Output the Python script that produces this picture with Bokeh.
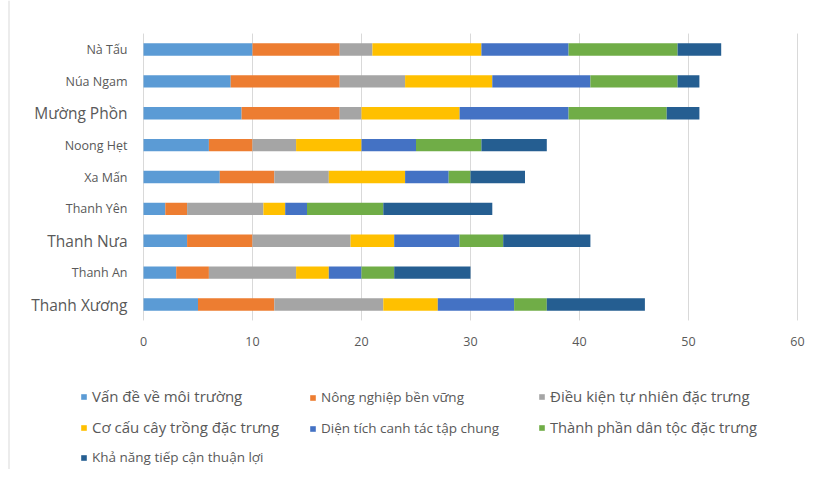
from bokeh.plotting import figure
from bokeh.models import ColumnDataSource, Range1d, Legend, LegendItem
from bokeh.core.properties import value
from bokeh.embed import file_html
from bokeh.resources import INLINE

categories = ["Nà Tấu", "Núa Ngam", "Mường Phồn", "Noong Hẹt", "Xa Mấn",
              "Thanh Yên", "Thanh Nưa", "Thanh An", "Thanh Xương"]

series_names = ["Vấn đề về môi trường", "Nông nghiệp bền vững",
                "Điều kiện tự nhiên đặc trưng", "Cơ cấu cây trồng đặc trưng",
                "Diện tích canh tác tập chung", "Thành phần dân tộc đặc trưng",
                "Khả năng tiếp cận thuận lợi"]

moi_truong = [10, 8, 9, 6, 7, 2, 4, 3, 5]
nong_nghiep = [8, 10, 9, 4, 5, 2, 6, 3, 7]
dieu_kien = [3, 6, 2, 4, 5, 7, 9, 8, 10]
co_cau = [10, 8, 9, 6, 7, 2, 4, 3, 5]
dien_tich = [8, 9, 10, 5, 4, 2, 6, 3, 7]
thanh_phan = [10, 8, 9, 6, 2, 7, 4, 3, 3]
kha_nang = [4, 2, 3, 6, 5, 10, 8, 7, 9]

x_ticks = [0, 10, 20, 30, 40, 50, 60]

series = [moi_truong, nong_nghiep, dieu_kien, co_cau, dien_tich, thanh_phan, kha_nang]
colors = ["#5B9BD5", "#ED7D31", "#A5A5A5", "#FFC000", "#4472C4", "#70AD47", "#255E91"]
FONT = "Open Sans"
TXT = "#595959"

# ---- geometry (pixels) ----
W, H = 809, 469
M = 0                      # offset of the canvas in the photographed page
PX_X = (797 - 143) / 60.0  # px per x unit
PX_Y = (304 - 49) / 8.0    # px per category
X0_IMG = 143               # image x of value 0
YTOP_IMG = 49              # image y of first category centre

n = len(categories)
x_start = -(X0_IMG - M) / PX_X
x_end = x_start + W / PX_X
y_top = (n - 1) + (YTOP_IMG - M) / PX_Y
y_bot = y_top - H / PX_Y

p = figure(width=W, height=H, x_range=Range1d(x_start, x_end), y_range=Range1d(y_bot, y_top),
           output_backend="svg", toolbar_location=None,
           x_axis_location=None, y_axis_location=None,
           min_border=0, min_border_left=0, min_border_right=0,
           min_border_top=0, min_border_bottom=0)
p.grid.visible = False
p.outline_line_color = None

# chart area left border
bx = x_start + (8.5 - M) / PX_X
p.segment(x0=[bx], x1=[bx], y0=[y_bot], y1=[y_top], line_color="#d9d9d9", line_width=1)

# vertical grid lines from the tick values
p.segment(x0=x_ticks, x1=x_ticks, y0=[-0.5] * len(x_ticks), y1=[n - 0.5] * len(x_ticks),
          line_color="#d9d9d9", line_width=1)

ypos = [n - 1 - i for i in range(n)]
data = {"y": ypos, "cat": categories}
keys = []
for k, vals in enumerate(series):
    key = "s%d" % k
    keys.append(key)
    data[key] = vals
src = ColumnDataSource(data)

renderers = p.hbar_stack(keys, y="y", height=0.39, color=colors, source=src, line_color=None)

# category labels
big = {"Mường Phồn", "Thanh Nưa", "Thanh Xương"}
lab_src = ColumnDataSource(dict(x=[0] * n, y=ypos, text=categories,
                                size=["15.5px" if c in big else "12.5px" for c in categories]))
p.text(x="x", y="y", text="text", source=lab_src, x_offset=-16, text_align="right",
       text_baseline="middle", text_font=value(FONT), text_font_size="size",
       text_color=TXT)

# x tick labels
tick_src = ColumnDataSource(dict(x=x_ticks, y=[-0.5] * len(x_ticks),
                                 text=[str(t) for t in x_ticks]))
p.text(x="x", y="y", text="text", source=tick_src, y_offset=21, text_align="center",
       text_baseline="middle", text_font=value(FONT), text_font_size="12.5px",
       text_color=TXT)

# legend: one per item, laid out in 3 columns
col_x = [80, 309, 538]
row_y = [397, 428, 457]
grid_pos = [(0, 0), (1, 0), (2, 0), (0, 1), (1, 1), (2, 1), (0, 2)]
leg_size = ["15px", "13.5px", "15px", "15px", "13.5px", "14.7px", "13.5px"]
LH = 18
for j, r in enumerate(renderers):
    c, rw = grid_pos[j]
    lx = col_x[c] - M
    ly = (M + H) - row_y[rw] - LH / 2
    leg = Legend(items=[LegendItem(label=series_names[j], renderers=[r])],
                 location=(lx, ly), orientation="vertical", padding=0, margin=0,
                 spacing=0, border_line_color=None, background_fill_alpha=0,
                 glyph_width=7, glyph_height=7, label_standoff=5, label_height=LH,
                 label_text_font=FONT, label_text_font_size=leg_size[j],
                 label_text_color=TXT)
    p.add_layout(leg)

open("out.html", "w").write(file_html(p, INLINE))
